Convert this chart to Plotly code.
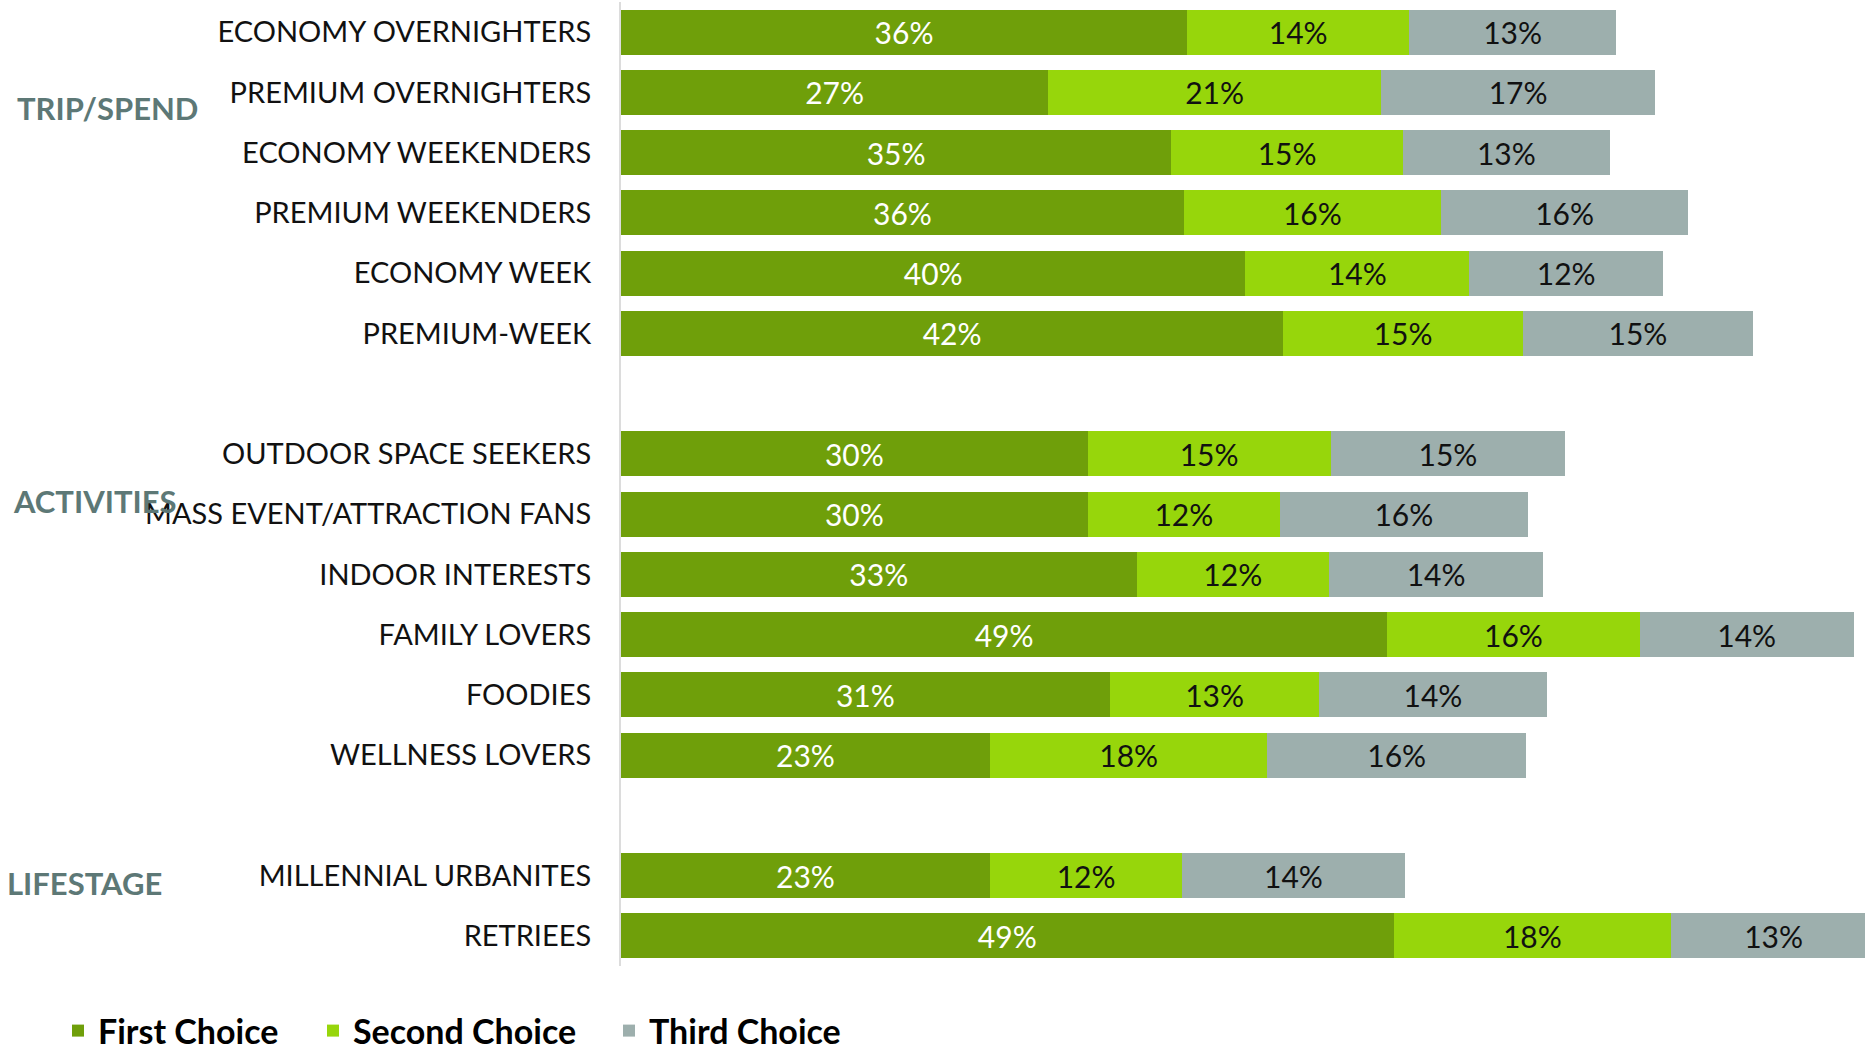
import plotly.graph_objects as go

# ---------------- data ----------------
categories = [
    "ECONOMY OVERNIGHTERS", "PREMIUM OVERNIGHTERS", "ECONOMY WEEKENDERS",
    "PREMIUM WEEKENDERS", "ECONOMY WEEK", "PREMIUM-WEEK",
    "OUTDOOR SPACE SEEKERS", "MASS EVENT/ATTRACTION FANS", "INDOOR INTERESTS",
    "FAMILY LOVERS", "FOODIES", "WELLNESS LOVERS",
    "MILLENNIAL URBANITES", "RETRIEES",
]
first_choice = [35.9, 27.1, 34.9, 35.7, 39.6, 42.0,
                29.6, 29.6, 32.7, 48.6, 31.0, 23.4,
                23.4, 49.0]
second_choice = [14.1, 21.1, 14.7, 16.3, 14.2, 15.2,
                 15.4, 12.2, 12.2, 16.0, 13.3, 17.6,
                 12.2, 17.6]
third_choice = [13.1, 17.4, 13.1, 15.7, 12.3, 14.6,
                14.9, 15.7, 13.6, 13.6, 14.4, 16.4,
                14.1, 13.0]
series_names = ["First Choice", "Second Choice", "Third Choice"]
group_labels = ["TRIP/SPEND", "ACTIVITIES", "LIFESTAGE"]

# axis order: groups separated by an empty slot
gap1, gap2 = " ", "  "
category_order = categories[:6] + [gap1] + categories[6:12] + [gap2] + categories[12:]

# ---------------- styling ----------------
W, H = 1865, 1052
ML, MR, MT, MB = 621, 0, 2, 86
PW, PH = W - ML - MR, H - MT - MB
colors = ["#6f9f0a", "#97d60b", "#9dafad"]
text_colors = ["#ffffff", "#111111", "#111111"]
FONT = "Lato"


def px_x(px):
    return (px - ML) / PW


def px_y(py):
    return 1 - (py - MT) / PH


fig = go.Figure()
legend_names = ["legend", "legend2", "legend3"]
for name, vals, col, tcol, lg in zip(series_names,
                                     [first_choice, second_choice, third_choice],
                                     colors, text_colors, legend_names):
    fig.add_trace(go.Bar(
        y=categories, x=vals, name=name, orientation="h",
        marker=dict(color=col, line=dict(width=0)),
        texttemplate="%{x:.0f}%", textposition="inside",
        insidetextanchor="middle", textangle=0,
        textfont=dict(family=FONT, size=30, color=tcol),
        constraintext="none", cliponaxis=True,
        legend=lg, hoverinfo="skip",
    ))

# group labels
group_pos = [(15, 108), (11, 501), (5, 883)]
annotations = []
for lab, (gx, gy) in zip(group_labels, group_pos):
    annotations.append(dict(
        text=lab, xref="paper", yref="paper", x=px_x(gx), y=px_y(gy),
        xanchor="left", yanchor="middle", showarrow=False,
        font=dict(family=FONT, size=31, color="#5d7876", weight="bold"),
    ))

legend_common = dict(
    orientation="h", yanchor="middle", xanchor="left",
    font=dict(family=FONT, size=34, color="#000000", weight="bold"),
    bgcolor="rgba(0,0,0,0)", borderwidth=0,
)
legend_left_px = [58, 313, 609]
legend_y = px_y(1031)

fig.update_layout(
    width=W, height=H,
    margin=dict(l=ML, r=MR, t=MT, b=MB, autoexpand=False),
    paper_bgcolor="white", plot_bgcolor="white",
    barmode="stack", bargap=0.25,
    showlegend=True,
    legend=dict(legend_common, x=px_x(legend_left_px[0]), y=legend_y),
    legend2=dict(legend_common, x=px_x(legend_left_px[1]), y=legend_y),
    legend3=dict(legend_common, x=px_x(legend_left_px[2]), y=legend_y),
    xaxis=dict(range=[0, 78.9], showgrid=False, zeroline=False,
               showticklabels=False, showline=False, fixedrange=True),
    yaxis=dict(type="category", categoryorder="array",
               categoryarray=category_order,
               range=[len(category_order) - 0.5, -0.5],
               showgrid=False, zeroline=False, ticks="",
               showline=True, linecolor="#dcdcdc", linewidth=2,
               ticklabelstandoff=22,
               tickfont=dict(family=FONT, size=29, color="#111111")),
    annotations=annotations,
)

fig.write_html(
    "out.html",
    config={"displayModeBar": False},
    post_script="document.body.style.margin='0';document.body.style.overflow='hidden';",
)
